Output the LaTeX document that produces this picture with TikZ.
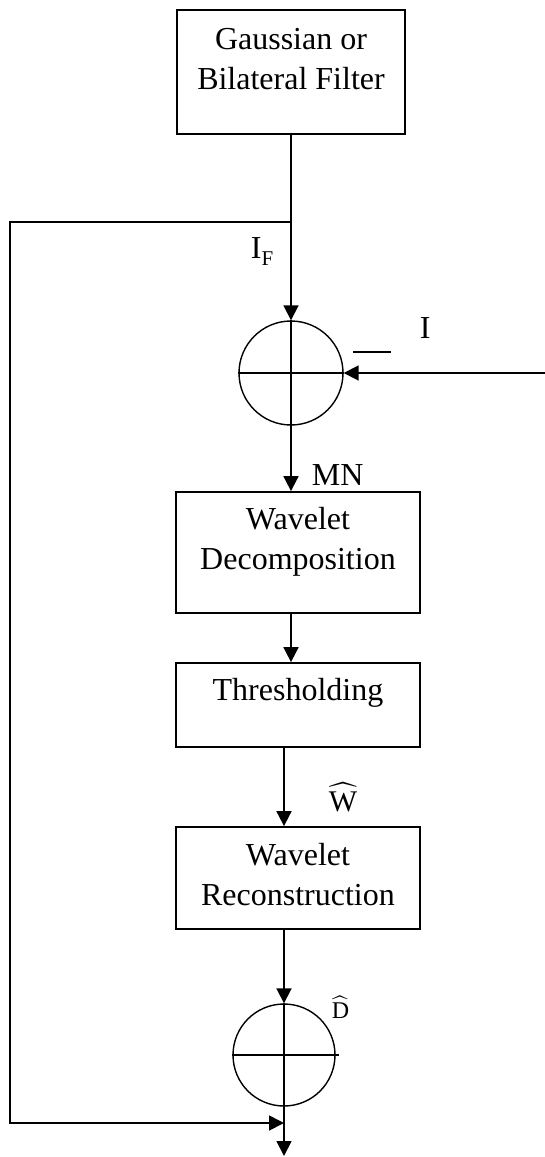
\documentclass[tikz,border=0pt]{standalone}
\usepackage{fontspec}
\usepackage{unicode-math}
\setmainfont{Liberation Serif}
\usetikzlibrary{arrows.meta,positioning}

\begin{document}
\begin{tikzpicture}[x=1pt,y=-1pt,line width=1.8pt,
  box/.style={draw,rectangle,inner sep=0pt,minimum width=244pt},
  sum/.style={draw,circle,inner sep=0pt,line width=1.4pt},
  lbl/.style={inner sep=0pt,align=center,font=\fontsize{32}{40}\selectfont},
  arr/.style={-{Triangle[length=15pt,width=15pt]}}]
  \useasboundingbox (0,0) rectangle (545,1157);
  % blocks
  \node[box,minimum width=228pt,minimum height=124pt] (filter) at (291,72) {};
  \node[box,minimum height=121pt] (decomp) at (298,552.5) {};
  \node[box,minimum height=84pt] (thresh) at (298,705) {};
  \node[box,minimum height=102pt] (recon) at (298,878) {};
  \node[sum,minimum size=104pt] (sum1) at (291,373) {};
  \node[sum,minimum size=102pt] (sum2) at (284,1055) {};
  % block texts
  \node[lbl,below=18pt of filter.north] (filtertxt) {Gaussian or\\Bilateral Filter};
  \node[lbl,below=15pt of decomp.north] (decomptxt) {Wavelet\\Decomposition};
  \node[lbl,below=15pt of thresh.north] (threshtxt) {Thresholding};
  \node[lbl,below=16pt of recon.north] (recontxt) {Wavelet\\Reconstruction};
  % crosses in the summing points
  \draw[line width=1.4pt] (sum1.north) -- (sum1.south) (sum1.west) -- (sum1.east);
  \draw[line width=1.4pt] (sum2.north) -- (sum2.south) (sum2.west) -- ([xshift=3pt]sum2.east);
  % signal path
  \coordinate (split) at (291,222);
  \coordinate (fbtop) at (10,222);
  \coordinate (join) at (284,1123);
  \coordinate (in) at (545,373);
  \coordinate (out) at (284,1156);
  \draw[arr] (filter.south) -- (sum1.north);
  \draw[arr] (in) -- (sum1.east);
  \draw[arr] (sum1.south) -- (sum1.south |- decomp.north);
  \draw[arr] (decomp.south -| sum1) -- (thresh.north -| sum1);
  \draw[arr] (thresh.south -| sum2) -- (recon.north -| sum2);
  \draw[arr] (recon.south -| sum2) -- (sum2.north);
  \draw[arr] (sum2.south) -- (out);
  % feedback
  \draw[arr] (split) -- (fbtop) |- (join);
  % labels
  \node[lbl,anchor=base west] (iflbl) at (250,258) {I\raisebox{-7pt}{\fontsize{21}{21}\selectfont F}};
  \node[lbl,anchor=base west] (ilbl) at (419,338) {I};
  \node[inner sep=0pt] (minus) at (372,352) {\rule{38pt}{1.4pt}};
  \node[lbl,anchor=base west] (mnlbl) at (311,485) {MN};
  \node[lbl,anchor=base west,font=\fontsize{30}{30}\selectfont] (wlbl) at (328,811) {$\widehat{\mbox{W}}$};
  \node[lbl,anchor=base west,font=\fontsize{24}{24}\selectfont] (dlbl) at (331,1018) {$\widehat{\mbox{D}}$};
\end{tikzpicture}
\end{document}
